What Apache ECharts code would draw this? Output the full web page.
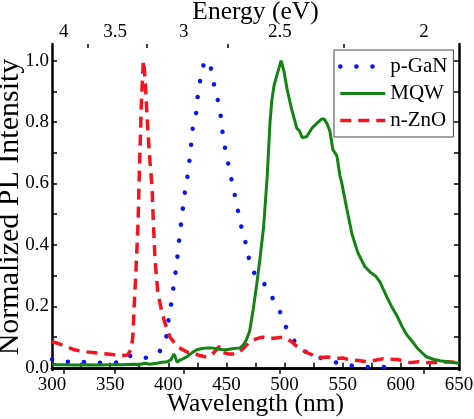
<!DOCTYPE html>
<html>
<head>
<meta charset="utf-8">
<script src="https://cdn.jsdelivr.net/npm/echarts@6/dist/echarts.min.js"></script>
<style>html,body{margin:0;padding:0;background:#fff}#c{width:474px;height:419px}</style>
</head>
<body>
<div id="c"></div>
<script>
// ---- data ----
const seriesNames = ['p-GaN', 'MQW', 'n-ZnO'];
const gaNWavelength = [300,305,310,315,320,325,330,335,340,345,350,355,360,366,371,377,383,388,392,396,399,400.5,403,405,407,408.5,410,412,413.5,416,418,419.5,421,424,425.5,428,431,433,436,438.5,442,444.5,446,448,451,454,457,460,463,467,470,476,481.5,486,490,495,499,505,510.5,519,528,535,546,558,572,585,598];
const gaNValue = [0.028,0.024,0.02,0.02,0.018,0.02,0.018,0.017,0.017,0.015,0.016,0.017,0.025,0.04,0.035,0.03,0.035,0.04,0.05,0.075,0.11,0.167,0.22,0.28,0.33,0.385,0.44,0.5,0.555,0.61,0.667,0.72,0.78,0.83,0.89,0.95,0.997,1.0,0.99,0.935,0.88,0.84,0.785,0.73,0.675,0.62,0.565,0.51,0.455,0.40,0.343,0.29,0.28,0.25,0.225,0.195,0.147,0.108,0.075,0.05,0.037,0.026,0.016,0.007,0.003,0.003,0.003];
const mqwWavelength = [300,305,310,320,330,340,350,360,370,375,380,384,390,395,399,402,405,407.5,410,413,416,420,424.5,428,433,437,442,446,450,455,461.5,464,467,470,473,476,479,482,485,487.5,489,491,494,497,499.5,502,506,510.5,513,515,519,523.5,529,532,534,536.5,539,541.6,545,547.6,549,553.6,558,563,569,574,578,582,585,588,592,597,601,605,610,614,618,622,628,633.6,640,648,650];
const mqwValue = [0.012,0.01,0.01,0.009,0.01,0.009,0.01,0.01,0.012,0.011,0.015,0.012,0.015,0.018,0.02,0.025,0.045,0.018,0.025,0.03,0.036,0.048,0.059,0.062,0.065,0.065,0.062,0.06,0.059,0.062,0.065,0.072,0.09,0.12,0.19,0.27,0.36,0.46,0.62,0.80,0.87,0.92,0.96,1.0,0.965,0.91,0.843,0.78,0.77,0.75,0.752,0.78,0.80,0.81,0.81,0.795,0.77,0.71,0.69,0.625,0.605,0.516,0.435,0.375,0.33,0.31,0.30,0.28,0.255,0.23,0.2,0.167,0.135,0.108,0.085,0.065,0.05,0.036,0.028,0.023,0.02,0.016,0.015];
const znoWavelength = [300,305,310,315,320,325,330,335,340,345,350,355,360,365,368,369.5,370.5,372,373,374,375,376,377,378,378.5,379.5,380.5,381.7,382.5,384.3,386,387,388.6,391,394,397,401.5,407.5,412,417,421,427,433,438,444,447,452,459,465,470,476,481,487,494,498,502,506,512,519,525,530,537,545,550,556,563,571,578,585,591,597,603,608,615,622,628,634,640,645,650];
const znoValue = [0.085,0.08,0.072,0.065,0.058,0.055,0.052,0.05,0.048,0.046,0.044,0.042,0.04,0.042,0.06,0.1,0.19,0.3,0.385,0.47,0.62,0.75,0.88,0.95,1.0,0.97,0.91,0.82,0.77,0.67,0.59,0.49,0.35,0.245,0.19,0.147,0.10,0.07,0.06,0.05,0.05,0.04,0.035,0.045,0.07,0.05,0.045,0.045,0.065,0.085,0.095,0.10,0.095,0.098,0.10,0.095,0.085,0.065,0.05,0.04,0.033,0.035,0.03,0.032,0.026,0.024,0.02,0.025,0.03,0.028,0.027,0.022,0.017,0.02,0.017,0.018,0.017,0.02,0.018,0.016];
const yLabelTicks = [0, 0.2, 0.4, 0.6, 0.8, 1.0];
const yMinorTicks = [0, 0.1, 0.2, 0.3, 0.4, 0.5, 0.6, 0.7, 0.8, 0.9, 1.0];
const energyMajor = [4, 3.5, 3, 2.5, 2];
const energyMinor = [3.75, 3.25, 2.75, 2.25];

const pairs = (xs, ys) => xs.map((x, i) => [x, ys[i]]);
const FONT = 'Liberation Serif';
const HC = 1240; // eV*nm

const axisLineStyle = { color: '#000', width: 2.5 };
const tickStyle = { color: '#000', width: 1.5 };

const chart = echarts.init(document.getElementById('c'), null, { renderer: 'canvas' });
chart.setOption({
  animation: false,
  backgroundColor: '#fff',
  grid: { left: 52, right: 15, top: 44, bottom: 49, containLabel: false, outerBoundsMode: 'none' },
  legend: {
    orient: 'vertical', left: 334, top: 50,
    padding: [6, 6, 6, 4], itemGap: 6, itemWidth: 45, itemHeight: 20,
    borderColor: '#444', borderWidth: 1, backgroundColor: '#fff',
    itemStyle: { opacity: 0 },
    lineStyle: { width: 'inherit' },
    textStyle: { fontFamily: FONT, fontSize: 21, color: '#000' },
    data: seriesNames.slice()
  },
  xAxis: [
    {
      type: 'value', position: 'bottom', min: 300, max: 650, interval: 25,
      axisLine: { lineStyle: axisLineStyle },
      axisTick: { inside: true, length: 5, lineStyle: tickStyle },
      axisLabel: { interval: 0, formatter: v => (v % 50 === 0 ? String(v) : ''), fontFamily: FONT, fontSize: 19, color: '#000', margin: 6 },
      splitLine: { show: false },
      name: 'Wavelength (nm)', nameLocation: 'middle', nameGap: 21, nameMoveOverlap: false,
      nameTextStyle: { fontFamily: FONT, fontSize: 25.5, color: '#000' }
    },
    {
      type: 'value', position: 'top', min: 300, max: 650,
      axisLine: { lineStyle: axisLineStyle },
      axisTick: { inside: true, length: 6, lineStyle: tickStyle, customValues: energyMajor.map(e => HC / e) },
      axisLabel: { customValues: energyMajor.map(e => HC / e), formatter: v => String(Number((HC / v).toFixed(2))), fontFamily: FONT, fontSize: 19, color: '#000', margin: 2 },
      splitLine: { show: false },
      name: 'Energy (eV)', nameLocation: 'middle', nameGap: 19, nameMoveOverlap: false,
      nameTextStyle: { fontFamily: FONT, fontSize: 25.5, color: '#000' }
    },
    {
      type: 'value', position: 'top', min: 300, max: 650,
      axisLine: { show: false },
      axisTick: { inside: true, length: 4, lineStyle: tickStyle, customValues: energyMinor.map(e => HC / e) },
      axisLabel: { show: false },
      splitLine: { show: false }
    }
  ],
  yAxis: [
    {
      type: 'value', position: 'left', min: -0.007, max: 1.054,
      axisLine: { show: true, lineStyle: axisLineStyle },
      axisTick: { show: true, inside: true, length: 5, lineStyle: tickStyle, customValues: yMinorTicks },
      axisLabel: { customValues: yLabelTicks, formatter: v => v.toFixed(1), fontFamily: FONT, fontSize: 19, color: '#000', margin: 3 },
      splitLine: { show: false },
      name: 'Normalized PL Intensity', nameLocation: 'middle', nameGap: 27, nameRotate: 90, nameMoveOverlap: false,
      nameTextStyle: { fontFamily: FONT, fontSize: 30, color: '#000' }
    },
    {
      type: 'value', position: 'right', min: -0.007, max: 1.054,
      axisLine: { show: true, lineStyle: axisLineStyle },
      axisTick: { show: true, inside: true, length: 5, lineStyle: tickStyle, customValues: yMinorTicks },
      axisLabel: { show: false },
      splitLine: { show: false }
    }
  ],
  series: [
    {
      name: seriesNames[0], type: 'line', data: pairs(gaNWavelength, gaNValue),
      showSymbol: false, symbol: 'none', color: '#0a14f0',
      lineStyle: { color: '#0a14f0', width: 4.5, type: [0.1, 16], cap: 'round' }
    },
    {
      name: seriesNames[2], type: 'line', data: pairs(znoWavelength, znoValue),
      showSymbol: false, symbol: 'none', color: '#f5141e',
      lineStyle: { color: '#f5141e', width: 3.5, type: [11, 7] }
    },
    {
      name: seriesNames[1], type: 'line', data: pairs(mqwWavelength, mqwValue),
      showSymbol: false, symbol: 'none', color: '#138313',
      lineStyle: { color: '#138313', width: 3 }
    }
  ]
});
</script>
</body>
</html>
